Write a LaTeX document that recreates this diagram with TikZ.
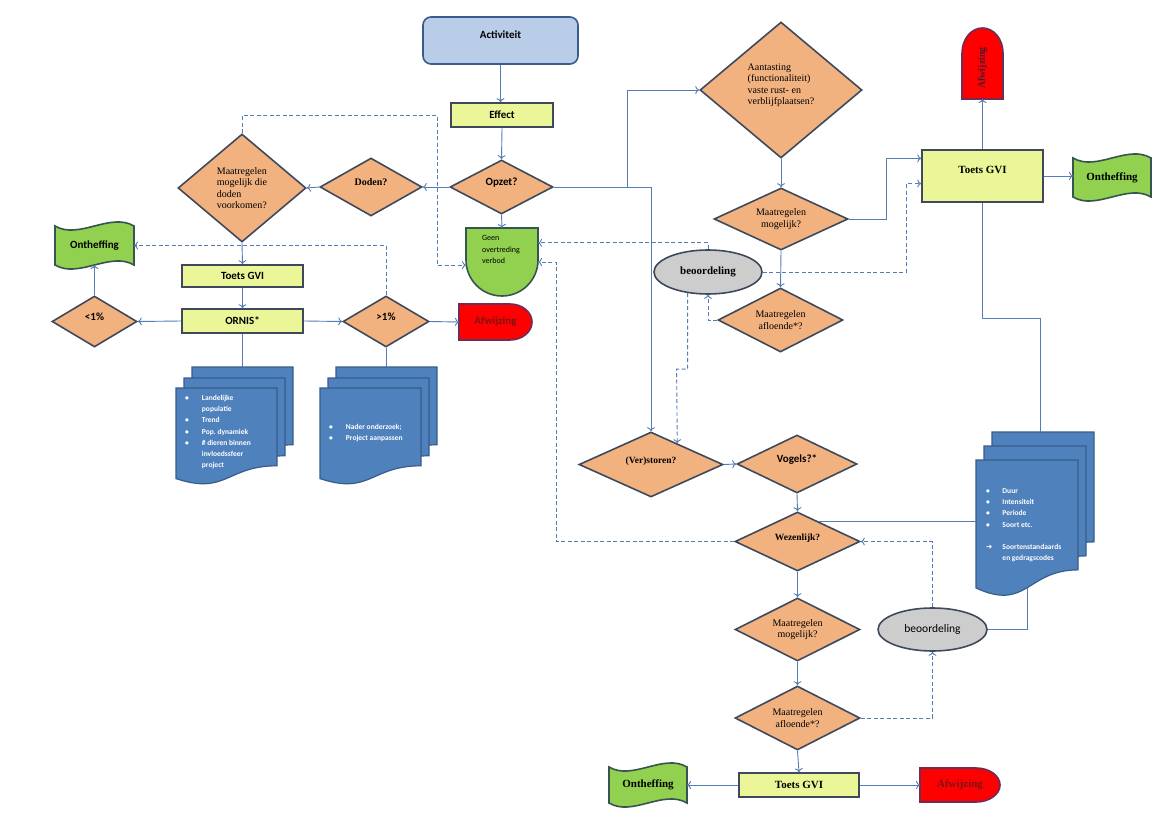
\documentclass[tikz,border=0pt]{standalone}
\usepackage{fontspec}
\setmainfont{Liberation Serif}
\newfontfamily\calibri{Carlito}
\newfontfamily\symbolen{DejaVu Sans}
\usetikzlibrary{shapes.geometric,arrows.meta}

\definecolor{oranje}{RGB}{242,178,128}
\definecolor{rand}{RGB}{62,74,92}
\definecolor{geel}{RGB}{234,246,152}
\definecolor{groen}{RGB}{146,208,80}
\definecolor{groenrand}{RGB}{55,85,80}
\definecolor{blauw}{RGB}{79,129,189}
\definecolor{blauwrand}{RGB}{56,93,138}
\definecolor{lichtblauw}{RGB}{185,205,232}
\definecolor{grijs}{RGB}{205,205,205}
\definecolor{rood}{RGB}{255,0,0}
\definecolor{roodrand}{RGB}{110,45,85}
\definecolor{donkerrood}{RGB}{125,20,20}
\definecolor{verbind}{RGB}{84,125,180}

% golvend vlak: x y b h
\newcommand{\golfvlak}[4]{%
  \filldraw[golf] (#1,#2) .. controls +(#3*0.3,14) and +(-#3*0.3,-14) .. ++(#3,0)
    -- ++(0,#4) .. controls +(-#3*0.3,-14) and +(#3*0.3,14) .. ++(-#3,0) -- cycle;}
% vlak met ronde rechterkant: x y b h rx
\newcommand{\afwvorm}[5]{%
  \filldraw[afw] (#1,#2) -- ++(#3-#5,0)
    .. controls +(0.552*#5,0) and +(0,-0.276*#4) .. ++(#5,0.5*#4)
    .. controls +(0,0.276*#4) and +(0.552*#5,0) .. ++(-#5,0.5*#4)
    -- ++(#5-#3,0) -- cycle;}
% document: x y b h
\newcommand{\docvorm}[4]{%
  \filldraw[doc] (#1,#2) -- ++(#3,0) -- ++(0,0.802*#4)
    .. controls +(-0.5*#3,0) and +(0.5*#3,0.173*#4) .. ++(-#3,0.132*#4) -- cycle;}

\tikzset{
  ruit/.style={diamond, draw=rand, fill=oranje, line width=1.6pt, inner sep=0pt, aspect=1.6},
  kort/.style={ruit, text height=7pt, text depth=10pt, font=\bfseries\fontsize{9.5}{11}\selectfont},
  lang/.style={ruit, font=\fontsize{10}{11.5}\selectfont},
  sans/.style={font=\calibri\bfseries\fontsize{11}{13}\selectfont},
  serif/.style={font=\bfseries\fontsize{11}{13}\selectfont},
  start/.style={rectangle, rounded corners=8pt, draw=blauwrand, fill=lichtblauw, line width=1.6pt,
    minimum width=155, minimum height=47, text height=8pt, text depth=12pt, sans},
  stap/.style={rectangle, draw=rand, fill=geel, line width=1.6pt, inner sep=0pt, sans},
  beoordeling/.style={ellipse, draw=rand, fill=grijs, line width=1.6pt, inner sep=0pt},
  vlak/.style={inner sep=0pt, outer sep=0pt},
  golf/.style={draw=groenrand, fill=groen, line width=1.6pt},
  afw/.style={draw=roodrand, fill=rood, line width=1.6pt},
  doc/.style={draw=blauwrand, fill=blauw, line width=1.2pt},
  doctekst/.style={anchor=north west, inner sep=0pt, text=white, font=\calibri\bfseries\fontsize{7.5}{11.3}\selectfont},
  lijn/.style={draw=verbind, line width=0.9pt},
  pijl/.style={lijn, -{To[length=4pt,width=8pt]}},
  stippel/.style={pijl, dash pattern=on 4pt off 2.5pt},
}

\begin{document}
\begin{tikzpicture}[x=1pt, y=-1pt]
  \fill[white] (0,0) rectangle (1166,813);

  % vrije vormen
  \golfvlak{55}{226}{79}{39}
  \golfvlak{1073}{158}{78}{39}
  \golfvlak{609}{767}{78}{36}
  \afwvorm{459}{304}{73}{36}{22}
  \afwvorm{920}{768}{80}{34}{24}
  \filldraw[afw] (962,99) -- (962,53) .. controls +(0,-13.8) and +(-11.3,0) .. (982.5,28)
    .. controls +(11.3,0) and +(0,-13.8) .. (1003,53) -- (1003,99) -- cycle;
  \filldraw[golf] (466,228) -- (538,228) -- (538,260) .. controls +(0,19.9) and +(19.9,0) .. (502,296)
    .. controls +(-19.9,0) and +(0,19.9) .. (466,260) -- cycle;

  % documenten
  \docvorm{192}{367}{101}{97}
  \docvorm{184}{378}{101}{97}
  \docvorm{176}{388}{101}{97}
  \docvorm{336}{367}{101}{97}
  \docvorm{328}{378}{101}{97}
  \docvorm{320}{388}{101}{97}
  \docvorm{992}{432}{102}{137}
  \docvorm{984}{446}{102}{137}
  \docvorm{976}{460}{102}{137}
  \coordinate (docL) at (242,367);
  \coordinate (docM) at (386,367);
  \coordinate (docR) at (1040,432);
  \coordinate (docRrand) at (976,522);
  \coordinate (docRvoet) at (1027,588);

  \node[doctekst] (docLtekst) at (185,392) {\begin{tabular}{@{}l@{\hspace{13pt}}l@{}}
    \textbullet & Landelijke\\ & populatie\\ \textbullet & Trend\\ \textbullet & Pop.\ dynamiek\\
    \textbullet & \# dieren binnen\\ & invloedssfeer\\ & project\end{tabular}};
  \node[doctekst] (docMtekst) at (329,421) {\begin{tabular}{@{}l@{\hspace{13pt}}l@{}}
    \textbullet & Nader onderzoek;\\ \textbullet & Project aanpassen\end{tabular}};
  \node[doctekst] (docRtekst) at (986,485) {\begin{tabular}{@{}l@{\hspace{10pt}}l@{}}
    \textbullet & Duur\\ \textbullet & Intensiteit\\ \textbullet & Periode\\ \textbullet & Soort etc.\\
    & \\ {\symbolen ➔} & Soortenstandaards\\ & en gedragscodes\end{tabular}};

  % linkerdeel
  \node[start] (act) at (500.5,40.5) {Activiteit};
  \node[stap, minimum width=102, minimum height=24] (eff) at (502,115) {Effect};
  \node[kort, sans, minimum width=103, minimum height=54] (opzet) at (501.5,187) {Opzet?};
  \node[kort, font=\bfseries\fontsize{10}{11}\selectfont, minimum width=102, minimum height=58] (doden) at (371,187) {Doden?};
  \node[lang, align=left, minimum width=128, minimum height=108] (mdoden) at (242,188)
    {Maatregelen\\mogelijk die\\doden\\voorkomen?};
  \node[vlak, minimum width=72, minimum height=68] (geen) at (502,262) {};
  \node[inner sep=0pt, align=left, font=\calibri\fontsize{8}{11.3}\selectfont] (geentekst) at (501,249.5)
    {Geen\\overtreding\\verbod};
  \node[stap, minimum width=121, minimum height=22] (toetsL) at (242.5,276) {Toets GVI};
  \node[stap, minimum width=121, minimum height=24] (ornis) at (242.5,321) {ORNIS*};
  \node[kort, sans, minimum width=85, minimum height=51] (kl1) at (94.5,321.5) {<1\%};
  \node[kort, sans, minimum width=86, minimum height=51] (gr1) at (386,321.5) {>1\%};
  \node[vlak, sans, minimum width=79, minimum height=39] (onthL) at (94.5,245.5) {Ontheffing};
  \node[vlak, sans, text=donkerrood, minimum width=73, minimum height=36] (afwL) at (495.5,322) {Afwijzing};

  % rechterdeel boven
  \node[lang, align=left, aspect=1.2, minimum width=162, minimum height=136] (aant) at (781,90)
    {Aantasting\\(functionaliteit)\\vaste rust- en\\verblijfplaatsen?\\\mbox{}};
  \node[lang, align=center, minimum width=134, minimum height=62] (mmogR) at (781,219) {Maatregelen\\mogelijk?};
  \node[beoordeling, serif, minimum width=108, minimum height=44] (beoR) at (708,272) {beoordeling};
  \node[lang, align=center, minimum width=125, minimum height=64] (mafR) at (780.5,320) {Maatregelen\\afloende*?};
  \node[stap, serif, minimum width=121, minimum height=52, text height=8pt, text depth=12.8pt] (toetsR) at (982.5,176) {Toets GVI};
  \node[vlak, minimum width=41, minimum height=71] (afwT) at (982.5,63.5) {};
  \node[inner sep=0pt, rotate=90, font=\bfseries\fontsize{10}{12}\selectfont, text=roodrand!60!black] (afwTtekst) at (982.5,68) {Afwijzing};
  \node[vlak, serif, minimum width=78, minimum height=39] (onthR) at (1112,177.5) {Ontheffing};

  % rechterdeel onder
  \node[kort, minimum width=144, minimum height=65] (verst) at (651,464.5) {(Ver)storen?};
  \node[kort, sans, minimum width=120, minimum height=58] (vogels) at (797,464) {Vogels?*};
  \node[kort, minimum width=125, minimum height=59] (wez) at (797.5,541.5) {Wezenlijk?};
  \node[lang, align=center, minimum width=125, minimum height=63] (mmogO) at (797.5,629.5) {Maatregelen\\mogelijk?};
  \node[beoordeling, font=\calibri\fontsize{11.5}{13}\selectfont, minimum width=109, minimum height=43] (beoO) at (932.5,629.5) {beoordeling};
  \node[lang, align=center, minimum width=125, minimum height=64] (mafO) at (797.5,718) {Maatregelen\\afloende*?};
  \node[stap, serif, minimum width=120, minimum height=24] (toetsO) at (799,785) {Toets GVI};
  \node[vlak, serif, minimum width=78, minimum height=36] (onthO) at (648,785) {Ontheffing};
  \node[vlak, serif, text=donkerrood, minimum width=80, minimum height=34] (afwO) at (960,785) {Afwijzing};

  % verbindingen
  \draw[pijl] (act.south) -- (act.south |- eff.north);
  \draw[pijl] (eff.south) -- (opzet.north);
  \draw[pijl] (opzet.west) -- (doden.east);
  \draw[pijl] (doden.west) -- (mdoden.east);
  \draw[pijl] (opzet.south) -- (geen.north);
  \draw[pijl] (mdoden.south) -- (toetsL.north);
  \draw[pijl] (toetsL.south) -- (ornis.north);
  \draw[pijl] (ornis.west) -- (kl1.east);
  \draw[pijl] (ornis.east) -- (gr1.west);
  \draw[pijl] (kl1.north) -- (onthL.south);
  \draw[pijl] (gr1.east) -- (afwL.west);
  \draw[lijn] (ornis.south) -- (ornis.south |- docL);
  \draw[lijn] (gr1.south) -- (docM);

  \coordinate (splits) at (627,187);
  \draw[pijl] (opzet.east) -| (verst.north);
  \draw[pijl] (splits) |- (aant.west);
  \draw[pijl] (aant.south) -- (mmogR.north);
  \draw[pijl] (mmogR.east) -- ++(38,0) |- (toetsR.164);
  \draw[pijl] (mmogR.south) -- (mafR.north);
  \draw[pijl] (toetsR.north) -- (afwT.south);
  \draw[pijl] (toetsR.east) -- (toetsR.east -| onthR.west);
  \draw[lijn] (toetsR.south) -- ++(0,116) -| (docR);

  \draw[pijl] (verst.east) -- (vogels.west);
  \draw[pijl] (vogels.south) -- (wez.north);
  \draw[lijn] (wez.43) -- (wez.43 -| docRrand);
  \draw[pijl] (wez.south) -- (mmogO.north);
  \draw[pijl] (mmogO.south) -- (mafO.north);
  \draw[pijl] (mafO.south) -- (toetsO.north);
  \draw[pijl] (toetsO.west) -- (onthO.east);
  \draw[pijl] (toetsO.east) -- (afwO.west);
  \draw[lijn] (beoO.east) -| (docRvoet);

  % gestippelde terugkoppelingen
  \coordinate (knikW) at (556,541.5);
  \draw[stippel] (mdoden.north) |- ++(195,-18) |- (geen.185);
  \draw[stippel] (gr1.north) |- (onthL.east);
  \draw[stippel] (beoR.north) |- (geen.28);
  \draw[stippel] (wez.west) -- (knikW) |- (geen.east);
  \draw[stippel] (beoR.east) -- ++(144,0) |- (toetsR.187);
  \draw[stippel] (mafR.west) -| (beoR.south);
  \draw[stippel] (beoR.226) |- ++(-11,76) -- (verst.39);
  \draw[stippel] (mafO.east) -| (beoO.south);
  \draw[stippel] (beoO.north) |- (wez.east);
\end{tikzpicture}
\end{document}
